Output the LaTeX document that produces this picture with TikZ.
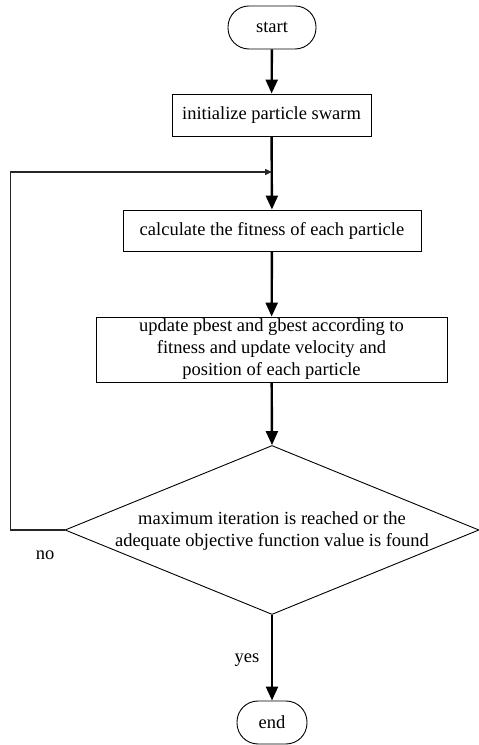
\documentclass[tikz,border=0pt]{standalone}
\usepackage{fontspec}
\setmainfont{Liberation Serif}
\usetikzlibrary{arrows.meta,shapes.geometric}
\begin{document}
\begin{tikzpicture}[x=1pt,y=1pt,
  txt/.style={font=\fontsize{18.5pt}{22pt}\selectfont},
  term/.style={txt,draw,line width=0.9pt,rounded corners=21pt,inner sep=0pt},
  proc/.style={txt,draw,line width=0.9pt,inner sep=0pt,align=center},
  flow/.style={line width=2.4pt,-{Triangle[length=14pt,width=12pt]}},
  back/.style={line width=1.4pt,draw=black!85,-{Triangle[length=7pt,width=6pt]}}]
\useasboundingbox (0,0) rectangle (479,745);
\node[term,minimum width=88pt,minimum height=43pt] (start) at (272,717.5) {start};
\node[proc,minimum width=199pt,minimum height=42pt] (init) at (271.5,630) {initialize particle swarm};
\node[proc,minimum width=298pt,minimum height=41pt] (calc) at (272,514.5) {calculate the fitness of each particle};
\node[proc,minimum width=351pt,minimum height=65pt] (upd) at (271.5,395.5) {update pbest and gbest according to\\fitness and update velocity and\\position of each particle};
\node[diamond,draw,line width=0.9pt,inner sep=0pt,minimum width=414pt,minimum height=169pt,aspect=2.45] (dec) at (272,215) {};
\node[txt,align=center] (dectext) at (272,214) {maximum iteration is reached or the\\adequate objective function value is found};
\node[term,minimum width=70pt,minimum height=43pt] (end) at (272,22.5) {end};
\node[txt] (no) at (45,190) {no};
\node[txt] (yes) at (247,85) {yes};
\coordinate (loop) at (272,573);
\draw[flow] (start) -- (init);
\draw[flow] (init) -- (calc);
\draw[flow] (calc) -- (upd);
\draw[flow] (upd) -- (dec.north);
\draw[flow] (dec.south) -- (end);
\draw[back] (dec.west) -- ++(-54,0) |- (loop);
\end{tikzpicture}
\end{document}
